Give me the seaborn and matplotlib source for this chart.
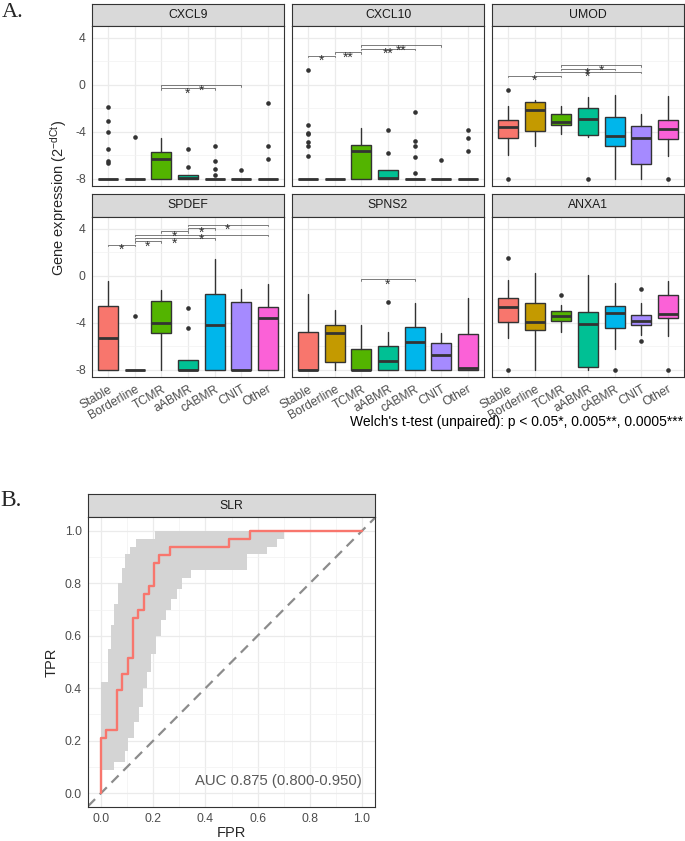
import numpy as np
import matplotlib
matplotlib.use("Agg")
import matplotlib.pyplot as plt
import seaborn as sns

# 数据：各组箱线图统计量
groups = ["Stable", "Borderline", "TCMR", "aABMR", "cABMR", "CNIT", "Other"]
genes = ["CXCL9", "CXCL10", "UMOD", "SPDEF", "SPNS2", "ANXA1"]
palette = ["#F8766D", "#C49A00", "#53B400", "#00C094", "#00B6EB", "#A58AFF", "#FB61D7"]

whis_low = {
    "CXCL9":  [-8, -8, -8, -8, -8, -8, -8],
    "CXCL10": [-8, -8, -8, -8, -8, -8, -8],
    "UMOD":   [-5.96, -5.19, -4.2, -4.43, -8, -8, -6.07],
    "SPDEF":  [-8, -8, -8, -8, -8, -8, -8],
    "SPNS2":  [-8, -8, -8, -8, -8, -8, -8],
    "ANXA1":  [-5.3, -8, -4.79, -8, -6.2, -5.07, -5.16],
}
q1 = {
    "CXCL9":  [-8, -8, -8, -8, -8, -8, -8],
    "CXCL10": [-8, -8, -8, -8, -8, -8, -8],
    "UMOD":   [-4.57, -3.97, -3.43, -4.26, -5.19, -6.75, -4.62],
    "SPDEF":  [-8, -8, -4.87, -8, -8, -8, -8],
    "SPNS2":  [-8, -7.38, -8, -8, -8, -8, -8],
    "ANXA1":  [-3.97, -4.62, -3.82, -7.8, -4.42, -4.22, -3.57],
}
median = {
    "CXCL9":  [-8, -8, -6.33, -7.9, -8, -8, -8],
    "CXCL10": [-8, -8, -5.67, -7.94, -8, -8, -8],
    "UMOD":   [-3.6, -2.13, -3.15, -2.9, -4.34, -4.51, -3.74],
    "SPDEF":  [-5.3, -8, -4.05, -8, -4.16, -8, -3.63],
    "SPNS2":  [-8, -4.9, -8, -7.25, -5.6, -6.77, -7.86],
    "ANXA1":  [-2.66, -3.94, -3.43, -4.14, -3.17, -3.88, -3.29],
}
q3 = {
    "CXCL9":  [-8, -8, -5.7, -7.72, -8, -8, -8],
    "CXCL10": [-8, -8, -5.16, -7.26, -8, -8, -8],
    "UMOD":   [-2.98, -1.5, -2.5, -1.93, -2.7, -3.52, -3.0],
    "SPDEF":  [-2.55, -8, -2.1, -7.14, -1.56, -2.2, -2.63],
    "SPNS2":  [-4.79, -4.19, -6.23, -6.0, -4.33, -5.72, -4.93],
    "ANXA1":  [-1.9, -2.29, -3.03, -3.12, -2.55, -3.31, -1.61],
}
whis_high = {
    "CXCL9":  [-8, -8, -4.57, -7.72, -8, -8, -8],
    "CXCL10": [-8, -8, -3.69, -7.26, -8, -8, -8],
    "UMOD":   [-1.8, -1.25, -1.76, -1.0, -0.82, -2.47, -0.97],
    "SPDEF":  [-0.42, -8, -1.19, -7.14, 1.42, -1.08, -0.68],
    "SPNS2":  [-1.56, -2.92, -4.22, -4.76, -2.32, -4.84, -1.87],
    "ANXA1":  [-0.31, 0.28, -2.44, 0.08, -0.6, -2.32, -0.45],
}
outliers = {
    "CXCL9":  [[-1.87, -3.1, -4.0, -5.5, -6.45, -6.7], [-4.45], [], [-5.5, -7.04],
               [-5.25, -6.47, -7.15, -7.7], [-7.26], [-1.53, -5.17, -6.33]],
    "CXCL10": [[1.25, -3.46, -4.09, -4.2, -4.85, -5.22, -6.04], [], [], [-3.86, -5.79],
               [-2.35, -4.77, -5.19, -6.13, -7.55], [-6.44], [-3.86, -4.51, -5.62]],
    "UMOD":   [[-0.43, -8], [], [], [-8], [], [], [-8]],
    "SPDEF":  [[], [-3.46], [], [-2.75, -4.48], [], [], []],
    "SPNS2":  [[], [], [], [-2.2], [], [], []],
    "ANXA1":  [[1.53, -8], [], [-1.67], [], [-8], [-1.08, -5.52], [-8]],
}
# 显著性标注：(组1, 组2, y, 标签)
signif = {
    "CXCL9":  [(2, 4, -0.30, "*"), (2, 5, -0.03, "*")],
    "CXCL10": [(0, 1, 2.47, "*"), (1, 2, 2.78, "**"), (2, 4, 3.09, "**"), (2, 5, 3.38, "**")],
    "UMOD":   [(0, 2, 0.77, "*"), (1, 5, 1.13, "*"), (2, 4, 1.39, "*"), (2, 5, 1.67, "*")],
    "SPDEF":  [(0, 1, 2.66, "*"), (1, 2, 2.95, "*"), (1, 4, 3.2, "*"), (1, 6, 3.49, "*"),
               (2, 3, 3.8, "*"), (3, 4, 4.08, "*"), (3, 6, 4.37, "*")],
    "SPNS2":  [(2, 4, -0.28, "*")],
    "ANXA1":  [],
}

# ROC 曲线
roc_fpr = [0, 0, 0.020, 0.061, 0.082, 0.102, 0.122, 0.143, 0.163, 0.184, 0.204, 0.224, 0.265, 0.490, 0.571, 1.0]
roc_tpr = [0, 0.212, 0.242, 0.394, 0.455, 0.515, 0.667, 0.697, 0.758, 0.788, 0.879, 0.909, 0.939, 0.970, 1.0, 1.0]
ci_hi_fpr = [0, 0.025, 0.04, 0.05, 0.065, 0.08, 0.09, 0.11, 0.135, 0.205, 0.70]
ci_hi_tpr = [0.425, 0.55, 0.64, 0.72, 0.80, 0.86, 0.91, 0.94, 0.97, 1.0, 1.0]
ci_lo_fpr = [0, 0.05, 0.09, 0.105, 0.125, 0.145, 0.16, 0.175, 0.19, 0.21, 0.23, 0.25,
             0.27, 0.29, 0.31, 0.345, 0.56, 0.635, 0.675, 0.70]
ci_lo_tpr = [0.09, 0.12, 0.16, 0.21, 0.27, 0.33, 0.40, 0.46, 0.53, 0.60, 0.66, 0.70,
             0.74, 0.78, 0.82, 0.85, 0.91, 0.94, 0.97, 1.0]

sns.set_theme(style="white")
plt.rcParams["font.family"] = ["Liberation Sans", "DejaVu Sans"]
plt.rcParams["axes.unicode_minus"] = False
plt.rcParams["mathtext.fontset"] = "custom"
plt.rcParams["mathtext.rm"] = "Liberation Sans"
plt.rcParams["mathtext.default"] = "regular"

W, H = 685, 841
fig = plt.figure(figsize=(W / 100, H / 100), dpi=100)


def box(x0, y0, x1, y1):
    return [x0 / W, 1 - y1 / H, (x1 - x0) / W, (y1 - y0) / H]


def strip(x0, y0, x1, y1, label):
    s = fig.add_axes(box(x0, y0, x1, y1))
    s.set_facecolor("#D9D9D9")
    s.set_xticks([])
    s.set_yticks([])
    for sp in s.spines.values():
        sp.set_color("#333333")
        sp.set_linewidth(0.8)
    s.text(0.5, 0.5, label, ha="center", va="center", fontsize=8.8, color="#1A1A1A",
           transform=s.transAxes)


def frame(ax):
    ax.set_facecolor("white")
    ax.set_axisbelow(True)
    for sp in ax.spines.values():
        sp.set_color("#333333")
        sp.set_linewidth(0.8)
    ax.tick_params(which="both", length=3, width=0.6, color="#333333",
                   labelcolor="#4D4D4D", labelsize=8.8, pad=1.5)
    ax.tick_params(which="minor", length=0)


# A. 箱线图分面
cols = [(92, 284), (292, 484), (492, 684)]
rows = [((4, 26), (26, 186)), ((194, 217), (217, 377))]
pos = np.arange(1, 8)

for k, gene in enumerate(genes):
    r, c = divmod(k, 3)
    (s0, s1), (p0, p1) = rows[r]
    x0, x1 = cols[c]
    strip(x0, s0, x1, s1, gene)
    ax = fig.add_axes(box(x0, p0, x1, p1))
    frame(ax)

    stats = []
    for i in range(7):
        stats.append(dict(med=median[gene][i], q1=q1[gene][i], q3=q3[gene][i],
                          whislo=whis_low[gene][i], whishi=whis_high[gene][i], fliers=[]))
    bp = ax.bxp(stats, positions=pos, widths=0.75, patch_artist=True, showcaps=False,
                showfliers=False, manage_ticks=False,
                boxprops=dict(edgecolor="#333333", linewidth=1.0),
                medianprops=dict(color="#333333", linewidth=2.0, solid_capstyle="butt"),
                whiskerprops=dict(color="#333333", linewidth=1.0))
    for patch, col in zip(bp["boxes"], palette):
        patch.set_facecolor(col)

    fx = [pos[i] for i in range(7) for v in outliers[gene][i]]
    fy = [v for i in range(7) for v in outliers[gene][i]]
    if fx:
        sns.scatterplot(x=fx, y=fy, color="#333333", s=11, linewidth=0, ax=ax,
                        legend=False, zorder=4)

    for i, j, y, lab in signif[gene]:
        xi, xj = pos[i], pos[j]
        ax.plot([xi, xi, xj, xj], [y - 0.13, y, y, y - 0.13], color="#666666", lw=0.6)
        ax.annotate(lab, ((xi + xj) / 2, y), xytext=(0, -6.6), textcoords="offset points",
                    ha="center", va="baseline", fontsize=10, color="#333333")

    ax.set_xlim(0.4, 7.6)
    ax.set_ylim(-8.62, 5.02)
    ax.set_yticks([-8, -4, 0, 4])
    ax.set_yticks([-6, -2, 2], minor=True)
    ax.set_xticks(pos)
    ax.set_xticks([], minor=True)
    ax.grid(which="major", color="#EBEBEB", lw=0.9)
    ax.grid(which="minor", axis="y", color="#F2F2F2", lw=0.5)

    if c == 0:
        ax.set_yticklabels(["-8", "-4", "0", "4"])
    else:
        ax.tick_params(axis="y", which="both", length=0, labelleft=False)
    if r == 1:
        ax.set_xticklabels(groups, rotation=30, ha="right", va="top",
                           rotation_mode="anchor")
    else:
        ax.tick_params(axis="x", length=0, labelbottom=False)
    ax.set_xlabel("")
    ax.set_ylabel("")

fig.text(2 / W, 1 - 3 / H, "A.", family=["Liberation Serif", "DejaVu Serif"],
         fontsize=16, va="top", ha="left")
fig.text(59 / W, 1 - 198 / H, "Gene expression (2$^{-dCt}$)", rotation=90,
         ha="center", va="center", fontsize=10.5)
fig.text(683 / W, 1 - 422 / H, "Welch's t-test (unpaired): p < 0.05*, 0.005**, 0.0005***",
         ha="right", va="center", fontsize=10, color="black")

# B. ROC 曲线
strip(88, 494, 375, 517, "SLR")
ax = fig.add_axes(box(88, 517, 375, 807))
frame(ax)


def stairs(xs, ys):
    px, py = [], []
    for i in range(len(xs) - 1):
        px += [xs[i], xs[i + 1]]
        py += [ys[i], ys[i]]
    px.append(xs[-1])
    py.append(ys[-1])
    return px, py


ux, uy = stairs(ci_hi_fpr, ci_hi_tpr)
lx, ly = stairs(ci_lo_fpr, ci_lo_tpr)
ax.fill(ux + lx[::-1], uy + ly[::-1], color="#D4D4D4", lw=0, zorder=1)

diag = ax.axline((0, 0), (1, 1), color="#8C8C8C", lw=1.6, zorder=2)
diag.set_dashes((4.5, 3))

sns.lineplot(x=roc_fpr, y=roc_tpr, sort=False, estimator=None, drawstyle="steps-post",
             color="#F8766D", lw=1.7, ax=ax, zorder=3)
ax.text(1.0, 0.046, "AUC 0.875 (0.800-0.950)", ha="right", va="center",
        fontsize=10.7, color="#595959")

ax.set_xlim(-0.05, 1.05)
ax.set_ylim(-0.053, 1.053)
ticks = [0, 0.2, 0.4, 0.6, 0.8, 1.0]
ax.set_xticks(ticks)
ax.set_yticks(ticks)
ax.set_xticks([0.1, 0.3, 0.5, 0.7, 0.9], minor=True)
ax.set_yticks([0.1, 0.3, 0.5, 0.7, 0.9], minor=True)
ax.set_xticklabels([f"{t:.1f}" for t in ticks])
ax.set_yticklabels([f"{t:.1f}" for t in ticks])
ax.grid(which="major", color="#EBEBEB", lw=0.9)
ax.grid(which="minor", color="#F2F2F2", lw=0.5)
ax.set_xlabel("")
ax.set_ylabel("")

fig.text(0 / W, 1 - 490 / H, "B.", family=["Liberation Serif", "DejaVu Serif"],
         fontsize=17, va="top", ha="left")
fig.text(52 / W, 1 - 662 / H, "TPR", rotation=90, ha="center", va="center", fontsize=10.5)
fig.text(231 / W, 1 - 833 / H, "FPR", ha="center", va="center", fontsize=10.5)

fig.savefig("out.png", dpi=100)
